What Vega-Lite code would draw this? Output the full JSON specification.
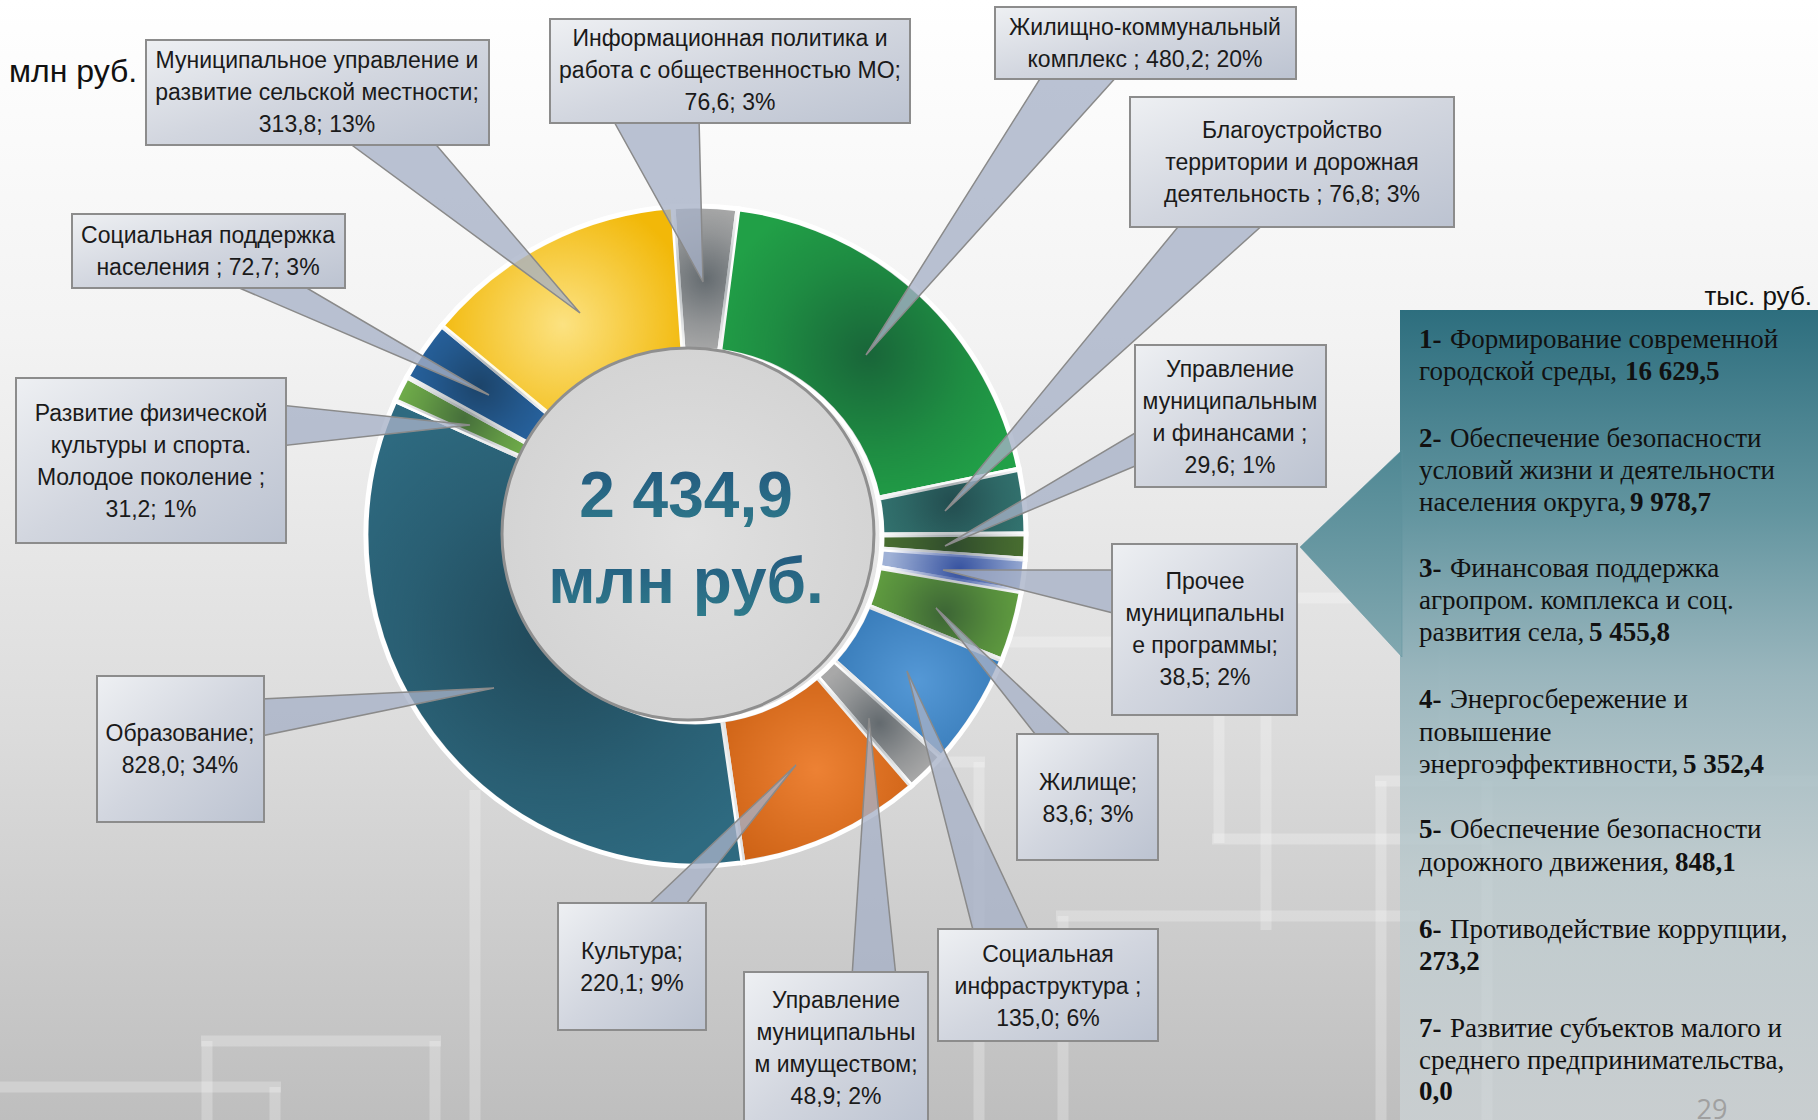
{
"$schema":"https://vega.github.io/schema/vega-lite/v6.json",
"width":1818,"height":1120,"padding":0,
"autosize":"none",
"background":"#ffffff",
"config":{"view":{"stroke":null}},
"datasets":{
"one":[{"k":1}],
"decor":[
{"x":201,"y":1041,"x2":441,"y2":1041},{"x":207,"y":1041,"x2":207,"y2":1120},{"x":435,"y":1041,"x2":435,"y2":1120},
{"x":0,"y":1087,"x2":281,"y2":1087},{"x":275,"y":1087,"x2":275,"y2":1120},
{"x":475,"y":790,"x2":475,"y2":1120},
{"x":940,"y":762,"x2":985,"y2":762},{"x":979,"y":762,"x2":979,"y2":1120},
{"x":1000,"y":642,"x2":1267,"y2":642},{"x":1266,"y":642,"x2":1266,"y2":930},
{"x":1215,"y":598,"x2":1400,"y2":598},{"x":1219,"y":598,"x2":1219,"y2":843},{"x":1212,"y":839,"x2":1490,"y2":839},
{"x":1056,"y":916,"x2":1420,"y2":916},{"x":1063,"y":916,"x2":1063,"y2":1120},
{"x":1375,"y":781,"x2":1818,"y2":781},{"x":1381,"y":781,"x2":1381,"y2":1120},{"x":1487,"y":781,"x2":1487,"y2":1120},
{"x":1444,"y":480,"x2":1444,"y2":781}
],
"slices":[
{"cat":"Информационная политика и работа с общественностью МО","v":76.6,"i":0},
{"cat":"Жилищно-коммунальный комплекс","v":480.2,"i":1},
{"cat":"Благоустройство территории и дорожная деятельность","v":76.8,"i":2},
{"cat":"Управление муниципальным и финансами","v":29.6,"i":3},
{"cat":"Прочее муниципальные программы","v":38.5,"i":4},
{"cat":"Жилище","v":83.6,"i":5},
{"cat":"Социальная инфраструктура","v":135.0,"i":6},
{"cat":"Управление муниципальным имуществом","v":48.9,"i":7},
{"cat":"Культура","v":220.1,"i":8},
{"cat":"Образование","v":828.0,"i":9},
{"cat":"Развитие физической культуры и спорта. Молодое поколение","v":31.2,"i":10},
{"cat":"Социальная поддержка населения","v":72.7,"i":11},
{"cat":"Муниципальное управление и развитие сельской местности","v":313.8,"i":12}
],
"pointers":[
{"id":"A","k":0,"x":345,"y":140},{"id":"A","k":1,"x":432,"y":140},{"id":"A","k":2,"x":580,"y":313},
{"id":"B","k":0,"x":230,"y":284},{"id":"B","k":1,"x":300,"y":284},{"id":"B","k":2,"x":489,"y":395},
{"id":"C","k":0,"x":280,"y":405},{"id":"C","k":1,"x":280,"y":446},{"id":"C","k":2,"x":470,"y":425},
{"id":"D","k":0,"x":612,"y":118},{"id":"D","k":1,"x":699,"y":118},{"id":"D","k":2,"x":703,"y":282},
{"id":"E","k":0,"x":1043,"y":74},{"id":"E","k":1,"x":1119,"y":74},{"id":"E","k":2,"x":866,"y":355},
{"id":"F","k":0,"x":1182,"y":222},{"id":"F","k":1,"x":1266,"y":222},{"id":"F","k":2,"x":945,"y":511},
{"id":"G","k":0,"x":1140,"y":430},{"id":"G","k":1,"x":1140,"y":464},{"id":"G","k":2,"x":945,"y":546},
{"id":"H","k":0,"x":1117,"y":570},{"id":"H","k":1,"x":1117,"y":614},{"id":"H","k":2,"x":943,"y":570},
{"id":"I","k":0,"x":1039,"y":739},{"id":"I","k":1,"x":1075,"y":739},{"id":"I","k":2,"x":936,"y":608},
{"id":"J","k":0,"x":974,"y":934},{"id":"J","k":1,"x":1030,"y":934},{"id":"J","k":2,"x":907,"y":671},
{"id":"K","k":0,"x":852,"y":977},{"id":"K","k":1,"x":896,"y":977},{"id":"K","k":2,"x":869,"y":718},
{"id":"L","k":0,"x":645,"y":908},{"id":"L","k":1,"x":683,"y":908},{"id":"L","k":2,"x":796,"y":765},
{"id":"M","k":0,"x":261,"y":699},{"id":"M","k":1,"x":261,"y":736},{"id":"M","k":2,"x":494,"y":688}
],
"boxes":[
{"id":"A","x":146,"x2":489,"y":40,"y2":145,"cx":317,"cy":61,"t":"Муниципальное управление и\nразвитие сельской местности;\n313,8; 13%"},
{"id":"B","x":72,"x2":345,"y":214,"y2":288,"cx":208,"cy":236,"t":"Социальная поддержка\nнаселения ;  72,7; 3%"},
{"id":"C","x":16,"x2":286,"y":378,"y2":543,"cx":151,"cy":414,"t":"Развитие физической\nкультуры и спорта.\nМолодое поколение ;\n31,2; 1%"},
{"id":"D","x":550,"x2":910,"y":19,"y2":123,"cx":730,"cy":39,"t":"Информационная политика и\nработа с общественностью МО;\n76,6; 3%"},
{"id":"E","x":995,"x2":1296,"y":7,"y2":79,"cx":1145,"cy":28,"t":"Жилищно-коммунальный\nкомплекс ;  480,2; 20%"},
{"id":"F","x":1130,"x2":1454,"y":97,"y2":227,"cx":1292,"cy":131,"t":"Благоустройство\nтерритории и дорожная\nдеятельность ;  76,8; 3%"},
{"id":"G","x":1135,"x2":1326,"y":345,"y2":487,"cx":1230,"cy":370,"t":"Управление\nмуниципальным\nи финансами ;\n29,6; 1%"},
{"id":"H","x":1112,"x2":1297,"y":544,"y2":715,"cx":1205,"cy":582,"t":"Прочее\nмуниципальны\nе программы;\n38,5; 2%"},
{"id":"I","x":1017,"x2":1158,"y":734,"y2":860,"cx":1088,"cy":783,"t":"Жилище;\n83,6; 3%"},
{"id":"J","x":938,"x2":1158,"y":929,"y2":1041,"cx":1048,"cy":955,"t":"Социальная\nинфраструктура ;\n135,0; 6%"},
{"id":"K","x":744,"x2":928,"y":972,"y2":1130,"cx":836,"cy":1001,"t":"Управление\nмуниципальны\nм имуществом;\n48,9; 2%"},
{"id":"L","x":558,"x2":706,"y":903,"y2":1030,"cx":632,"cy":952,"t":"Культура;\n220,1; 9%"},
{"id":"M","x":97,"x2":264,"y":676,"y2":822,"cx":180,"cy":734,"t":"Образование;\n828,0; 34%"}
],
"panelTip":[{"k":0,"x":1402,"y":450},{"k":1,"x":1300,"y":547},{"k":2,"x":1402,"y":657}],
"panelText":[
{"x":1450,"y":348,"t":"Формирование современной"},
{"x":1419,"y":380,"t":"городской среды,"},
{"x":1450,"y":447,"t":"Обеспечение безопасности"},
{"x":1419,"y":479,"t":"условий жизни и деятельности"},
{"x":1419,"y":511,"t":"населения округа,"},
{"x":1450,"y":577,"t":"Финансовая поддержка"},
{"x":1419,"y":609,"t":"агропром. комплекса и соц."},
{"x":1419,"y":641,"t":"развития села,"},
{"x":1450,"y":708,"t":"Энергосбережение и"},
{"x":1419,"y":741,"t":"повышение"},
{"x":1419,"y":773,"t":"энергоэффективности,"},
{"x":1450,"y":838,"t":"Обеспечение безопасности"},
{"x":1419,"y":871,"t":"дорожного движения,"},
{"x":1450,"y":938,"t":"Противодействие коррупции,"},
{"x":1450,"y":1037,"t":"Развитие субъектов малого и"},
{"x":1419,"y":1069,"t":"среднего предпринимательства,"}
],
"panelBold":[
{"x":1419,"y":348,"t":"1-"},{"x":1625,"y":380,"t":"16 629,5"},
{"x":1419,"y":447,"t":"2-"},{"x":1630,"y":511,"t":"9 978,7"},
{"x":1419,"y":577,"t":"3-"},{"x":1589,"y":641,"t":"5 455,8"},
{"x":1419,"y":708,"t":"4-"},{"x":1683,"y":773,"t":"5 352,4"},
{"x":1419,"y":838,"t":"5-"},{"x":1675,"y":871,"t":"848,1"},
{"x":1419,"y":938,"t":"6-"},{"x":1419,"y":970,"t":"273,2"},
{"x":1419,"y":1037,"t":"7-"},{"x":1419,"y":1100,"t":"0,0"}
],
"center":[{"t":"2 434,9","x":686,"y":517},{"t":"млн руб.","x":686,"y":603}],
"units":[{"t":"млн руб.","x":9,"y":82}],
"unitsR":[{"t":"тыс. руб.","x":1812,"y":305}],
"page":[{"t":"29","x":1712,"y":1119}]
},
"layer":[
{"data":{"name":"one"},
 "mark":{"type":"rect","fill":{"gradient":"linear","x1":0,"y1":0,"x2":0,"y2":1,"stops":[{"offset":0,"color":"#ffffff"},{"offset":0.3,"color":"#f3f3f3"},{"offset":0.65,"color":"#dcdcdc"},{"offset":1,"color":"#bebebe"}]}},
 "encoding":{
  "x":{"datum":0,"type":"quantitative","scale":{"domain":[0,1818],"nice":false,"zero":false},"axis":null},
  "x2":{"datum":1818},
  "y":{"datum":0,"type":"quantitative","scale":{"domain":[0,1120],"nice":false,"zero":false,"reverse":true},"axis":null},
  "y2":{"datum":1120}}},
{"data":{"name":"decor"},
 "mark":{"type":"rule","stroke":"#ffffff","strokeOpacity":0.25,"strokeWidth":11},
 "encoding":{
  "x":{"field":"x","type":"quantitative","scale":{"domain":[0,1818],"nice":false,"zero":false},"axis":null},
  "x2":{"field":"x2"},
  "y":{"field":"y","type":"quantitative","scale":{"domain":[0,1120],"nice":false,"zero":false,"reverse":true},"axis":null},
  "y2":{"field":"y2"}}},
{"data":{"name":"one"},
 "mark":{"type":"rect","fill":{"gradient":"linear","x1":0,"y1":0,"x2":0,"y2":1,"stops":[{"offset":0,"color":"rgba(45,110,126,1)"},{"offset":0.25,"color":"rgba(94,146,157,0.97)"},{"offset":0.45,"color":"rgba(146,177,185,0.9)"},{"offset":0.7,"color":"rgba(185,201,205,0.75)"},{"offset":1,"color":"rgba(205,212,215,0.7)"}]}},
 "encoding":{
  "x":{"datum":1400,"type":"quantitative","scale":{"domain":[0,1818],"nice":false,"zero":false},"axis":null},
  "x2":{"datum":1818},
  "y":{"datum":310,"type":"quantitative","scale":{"domain":[0,1120],"nice":false,"zero":false,"reverse":true},"axis":null},
  "y2":{"datum":1120}}},
{"data":{"name":"panelTip"},
 "mark":{"type":"line","interpolate":"linear-closed","fill":{"gradient":"linear","x1":0,"y1":0,"x2":0,"y2":1,"stops":[{"offset":0,"color":"#4f8894"},{"offset":1,"color":"#82a8b0"}]},"stroke":"#5f939e","strokeWidth":0.5},
 "encoding":{
  "x":{"field":"x","type":"quantitative","scale":{"domain":[0,1818],"nice":false,"zero":false},"axis":null},
  "y":{"field":"y","type":"quantitative","scale":{"domain":[0,1120],"nice":false,"zero":false,"reverse":true},"axis":null},
  "order":{"field":"k","type":"quantitative"}}},
{"data":{"name":"slices"},
 "mark":{"type":"arc","radius":330,"radius2":186,"stroke":"#ffffff","strokeWidth":5},
 "encoding":{
  "x":{"datum":696,"type":"quantitative","scale":{"domain":[0,1818],"nice":false,"zero":false},"axis":null},
  "y":{"datum":536,"type":"quantitative","scale":{"domain":[0,1120],"nice":false,"zero":false,"reverse":true},"axis":null},
  "theta":{"field":"v","type":"quantitative","stack":true,"scale":{"range":[-0.07,6.2132]}},
  "order":{"field":"i","type":"quantitative"},
  "color":{"field":"cat","type":"nominal","legend":null,"scale":{
   "domain":["Информационная политика и работа с общественностью МО","Жилищно-коммунальный комплекс","Благоустройство территории и дорожная деятельность","Управление муниципальным и финансами","Прочее муниципальные программы","Жилище","Социальная инфраструктура","Управление муниципальным имуществом","Культура","Образование","Развитие физической культуры и спорта. Молодое поколение","Социальная поддержка населения","Муниципальное управление и развитие сельской местности"],
   "range":["#ababab","#21a047","#337470","#4a7030","#9fb1d6","#62a040","#3d8ad0","#a8a8a8","#ea7018","#2e6a80","#72b04a","#2763a0","#f2b808"]}}}},
{"data":{"name":"slices"},
 "mark":{"type":"arc","radius":328,"radius2":188},
 "encoding":{
  "x":{"datum":696,"type":"quantitative","scale":{"domain":[0,1818],"nice":false,"zero":false},"axis":null},
  "y":{"datum":536,"type":"quantitative","scale":{"domain":[0,1120],"nice":false,"zero":false,"reverse":true},"axis":null},
  "theta":{"field":"v","type":"quantitative","stack":true,"scale":{"range":[-0.07,6.2132]}},
  "order":{"field":"i","type":"quantitative"},
  "fill":{"condition":[
    {"test":"datum.i == 12","value":{"gradient":"radial","x1":0.5,"y1":0.55,"r1":0,"x2":0.5,"y2":0.55,"r2":0.55,"stops":[{"offset":0,"color":"rgba(255,240,170,0.75)"},{"offset":1,"color":"rgba(255,240,170,0)"}]}},
    {"test":"datum.i == 4","value":{"gradient":"radial","x1":0.55,"y1":0.5,"r1":0,"x2":0.55,"y2":0.5,"r2":0.5,"stops":[{"offset":0,"color":"rgba(35,65,150,0.85)"},{"offset":1,"color":"rgba(35,65,150,0)"}]}},
    {"test":"datum.i == 8 || datum.i == 6","value":{"gradient":"radial","x1":0.5,"y1":0.5,"r1":0,"x2":0.5,"y2":0.5,"r2":0.6,"stops":[{"offset":0,"color":"rgba(255,255,255,0.12)"},{"offset":1,"color":"rgba(0,0,0,0.12)"}]}}
   ],
   "value":{"gradient":"radial","x1":0.5,"y1":0.5,"r1":0,"x2":0.5,"y2":0.5,"r2":0.55,"stops":[{"offset":0,"color":"rgba(15,30,40,0.45)"},{"offset":0.6,"color":"rgba(15,30,40,0.15)"},{"offset":1,"color":"rgba(15,30,40,0)"}]}}}},
{"data":{"name":"pointers"},
 "mark":{"type":"line","interpolate":"linear-closed","fill":"#a7b1c6","fillOpacity":0.78,"stroke":"#8a8a8a","strokeWidth":1.5},
 "encoding":{
  "x":{"field":"x","type":"quantitative","scale":{"domain":[0,1818],"nice":false,"zero":false},"axis":null},
  "y":{"field":"y","type":"quantitative","scale":{"domain":[0,1120],"nice":false,"zero":false,"reverse":true},"axis":null},
  "detail":{"field":"id","type":"nominal"},
  "order":{"field":"k","type":"quantitative"}}},
{"data":{"name":"boxes"},
 "mark":{"type":"rect","clip":true,"stroke":"#8c8c8c","strokeWidth":2,"fill":{"gradient":"linear","x1":0,"y1":0,"x2":1,"y2":1,"stops":[{"offset":0,"color":"#eef0f3"},{"offset":0.5,"color":"#d2d6df"},{"offset":1,"color":"#bcc3d1"}]}},
 "encoding":{
  "x":{"field":"x","type":"quantitative","scale":{"domain":[0,1818],"nice":false,"zero":false},"axis":null},
  "x2":{"field":"x2"},
  "y":{"field":"y","type":"quantitative","scale":{"domain":[0,1120],"nice":false,"zero":false,"reverse":true},"axis":null},
  "y2":{"field":"y2"}}},
{"data":{"name":"boxes"},
 "mark":{"type":"text","font":"Liberation Sans","fontSize":23,"lineHeight":32,"lineBreak":"\n","align":"center","baseline":"middle","fill":"#1a1a1a"},
 "encoding":{
  "x":{"field":"cx","type":"quantitative","scale":{"domain":[0,1818],"nice":false,"zero":false},"axis":null},
  "y":{"field":"cy","type":"quantitative","scale":{"domain":[0,1120],"nice":false,"zero":false,"reverse":true},"axis":null},
  "text":{"field":"t"}}},
{"data":{"name":"one"},
 "mark":{"type":"point","shape":"circle","filled":true,"size":138384,"opacity":1,"fill":{"gradient":"radial","x1":0.5,"y1":0.5,"r1":0,"x2":0.5,"y2":0.5,"r2":0.5,"stops":[{"offset":0,"color":"#e0e0e0"},{"offset":1,"color":"#d4d4d4"}]},"stroke":"#8f8f8f","strokeWidth":3},
 "encoding":{
  "x":{"datum":688,"type":"quantitative","scale":{"domain":[0,1818],"nice":false,"zero":false},"axis":null},
  "y":{"datum":534,"type":"quantitative","scale":{"domain":[0,1120],"nice":false,"zero":false,"reverse":true},"axis":null}}},
{"data":{"name":"center"},
 "mark":{"type":"text","font":"Liberation Sans","fontWeight":"bold","fontSize":64,"align":"center","baseline":"alphabetic","fill":{"gradient":"linear","x1":0,"y1":0,"x2":0,"y2":1,"stops":[{"offset":0,"color":"#22567e"},{"offset":1,"color":"#2f7b8b"}]}},
 "encoding":{
  "x":{"field":"x","type":"quantitative","scale":{"domain":[0,1818],"nice":false,"zero":false},"axis":null},
  "y":{"field":"y","type":"quantitative","scale":{"domain":[0,1120],"nice":false,"zero":false,"reverse":true},"axis":null},
  "text":{"field":"t"}}},
{"data":{"name":"panelText"},
 "mark":{"type":"text","font":"Liberation Serif","fontSize":27,"align":"left","baseline":"alphabetic","fill":"#111111"},
 "encoding":{
  "x":{"field":"x","type":"quantitative","scale":{"domain":[0,1818],"nice":false,"zero":false},"axis":null},
  "y":{"field":"y","type":"quantitative","scale":{"domain":[0,1120],"nice":false,"zero":false,"reverse":true},"axis":null},
  "text":{"field":"t"}}},
{"data":{"name":"panelBold"},
 "mark":{"type":"text","font":"Liberation Serif","fontWeight":"bold","fontSize":27,"align":"left","baseline":"alphabetic","fill":"#111111"},
 "encoding":{
  "x":{"field":"x","type":"quantitative","scale":{"domain":[0,1818],"nice":false,"zero":false},"axis":null},
  "y":{"field":"y","type":"quantitative","scale":{"domain":[0,1120],"nice":false,"zero":false,"reverse":true},"axis":null},
  "text":{"field":"t"}}},
{"data":{"name":"units"},
 "mark":{"type":"text","font":"Liberation Sans","fontSize":32,"align":"left","baseline":"alphabetic","fill":"#111111"},
 "encoding":{
  "x":{"field":"x","type":"quantitative","scale":{"domain":[0,1818],"nice":false,"zero":false},"axis":null},
  "y":{"field":"y","type":"quantitative","scale":{"domain":[0,1120],"nice":false,"zero":false,"reverse":true},"axis":null},
  "text":{"field":"t"}}},
{"data":{"name":"unitsR"},
 "mark":{"type":"text","font":"Liberation Sans","fontSize":26,"align":"right","baseline":"alphabetic","fill":"#111111"},
 "encoding":{
  "x":{"field":"x","type":"quantitative","scale":{"domain":[0,1818],"nice":false,"zero":false},"axis":null},
  "y":{"field":"y","type":"quantitative","scale":{"domain":[0,1120],"nice":false,"zero":false,"reverse":true},"axis":null},
  "text":{"field":"t"}}},
{"data":{"name":"page"},
 "mark":{"type":"text","font":"Open Sans","fontSize":27,"align":"center","baseline":"alphabetic","fill":"#a0a0a0"},
 "encoding":{
  "x":{"field":"x","type":"quantitative","scale":{"domain":[0,1818],"nice":false,"zero":false},"axis":null},
  "y":{"field":"y","type":"quantitative","scale":{"domain":[0,1120],"nice":false,"zero":false,"reverse":true},"axis":null},
  "text":{"field":"t"}}}
]
}
